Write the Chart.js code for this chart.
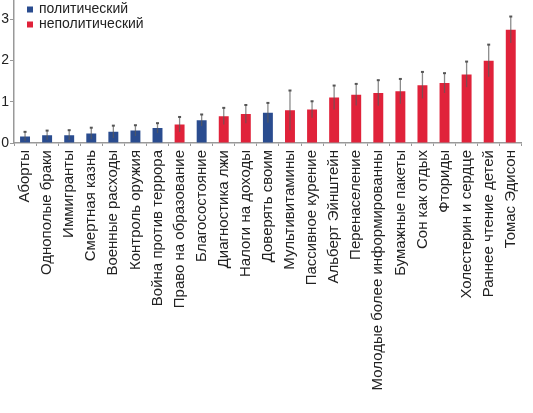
<!DOCTYPE html>
<html>
<head>
<meta charset="utf-8">
<script src="https://cdn.jsdelivr.net/npm/chart.js@4.4.1/dist/chart.umd.min.js"></script>
<style>
  html, body { margin: 0; padding: 0; background: #fff; }
  #wrap { width: 533px; height: 413px; }
</style>
</head>
<body>
<div id="wrap"><canvas id="grafico"></canvas></div>
<script>
const temas = [
    'Аборты', 'Однополые браки', 'Иммигранты', 'Смертная казнь', 'Военные расходы',
    'Контроль оружия', 'Война против террора', 'Право на образование', 'Благосостояние',
    'Диагностика лжи', 'Налоги на доходы', 'Доверять своим', 'Мультивитамины',
    'Пассивное курение', 'Альберт Эйнштейн', 'Перенаселение', 'Молодые более информированны',
    'Бумажные пакеты', 'Сон как отдых', 'Фториды', 'Холестерин и сердце',
    'Раннее чтение детей', 'Томас Эдисон'
]
const valores = [0.16, 0.19, 0.19, 0.23, 0.27, 0.30, 0.36, 0.45, 0.55, 0.65, 0.70, 0.73,
    0.79, 0.81, 1.10, 1.17, 1.21, 1.25, 1.40, 1.45, 1.66, 1.99, 2.74]
const erros = [0.11, 0.11, 0.12, 0.14, 0.15, 0.13, 0.12, 0.18, 0.14, 0.20, 0.22, 0.24,
    0.48, 0.20, 0.29, 0.26, 0.31, 0.30, 0.32, 0.24, 0.31, 0.39, 0.32]
// 1 = политический, 0 = неполитический
const politico = [1, 1, 1, 1, 1, 1, 1, 0, 1, 0, 0, 1, 0, 0, 0, 0, 0, 0, 0, 0, 0, 0, 0]
const yTicks = [0, 1, 2, 3]
const legenda = ['политический', 'неполитический']

const AZUL = '#2a4c8f'
const VERMELHO = '#e0223a'
const FONTE = '"Liberation Sans", Arial, sans-serif'

const barrasErro = {
    id: 'barrasErro',
    afterDatasetsDraw(chart) {
        const ctx = chart.ctx
        const meta = chart.getDatasetMeta(0)
        const y = chart.scales.y
        ctx.save()
        meta.data.forEach((bar, i) => {
            const topo = y.getPixelForValue(valores[i] + erros[i])
            const base = y.getPixelForValue(valores[i] - erros[i])
            ctx.strokeStyle = 'rgba(90,90,90,0.7)'
            ctx.lineWidth = 1.3
            ctx.beginPath()
            ctx.moveTo(bar.x, base)
            ctx.lineTo(bar.x, topo)
            ctx.stroke()
            ctx.strokeStyle = '#555'
            ctx.lineWidth = 2
            ctx.beginPath()
            ctx.moveTo(bar.x - 1.5, topo)
            ctx.lineTo(bar.x + 1.5, topo)
            ctx.stroke()
        })
        ctx.restore()
    }
}

// legenda simples no canto do gráfico
const legendaCanto = {
    id: 'legendaCanto',
    afterDraw(chart) {
        const ctx = chart.ctx
        const cores = [AZUL, VERMELHO]
        ctx.save()
        ctx.font = '14px ' + FONTE
        ctx.textBaseline = 'middle'
        legenda.forEach((txt, i) => {
            const cy = 9.5 + i * 15
            ctx.fillStyle = cores[i]
            ctx.fillRect(27, cy - 3, 6, 6)
            ctx.fillStyle = '#222'
            ctx.fillText(txt, 39, cy)
        })
        ctx.restore()
    }
}

new Chart(document.getElementById('grafico'), {
    type: 'bar',
    data: {
        labels: temas,
        datasets: [{
            data: valores,
            backgroundColor: politico.map(p => p ? AZUL : VERMELHO),
            barPercentage: 0.9,
            categoryPercentage: 0.5
        }]
    },
    options: {
        responsive: true,
        maintainAspectRatio: false,
        animation: false,
        layout: { padding: { top: 0, right: 11, left: 0, bottom: 0 } },
        plugins: {
            tooltip: { enabled: false },
            legend: { display: false }
        },
        scales: {
            x: {
                grid: { drawOnChartArea: false, tickLength: 3, color: '#999' },
                border: { color: '#999', width: 1.5 },
                ticks: {
                    autoSkip: false,
                    minRotation: 90,
                    maxRotation: 90,
                    padding: 4,
                    color: '#222',
                    font: { family: FONTE, size: 15 }
                },
                afterFit: s => { s.height = 270 }
            },
            y: {
                min: 0,
                max: 3.46,
                grid: { drawOnChartArea: false, tickLength: 4, color: '#999' },
                border: { color: '#999', width: 1.5 },
                ticks: {
                    padding: 1,
                    color: '#222',
                    font: { family: FONTE, size: 14 }
                },
                afterBuildTicks: s => { s.ticks = yTicks.map(v => ({ value: v })) },
                afterFit: s => { s.width = 14; s.paddingTop = 0; s.paddingBottom = 0 }
            }
        }
    },
    plugins: [barrasErro, legendaCanto]
})
</script>
</body>
</html>
